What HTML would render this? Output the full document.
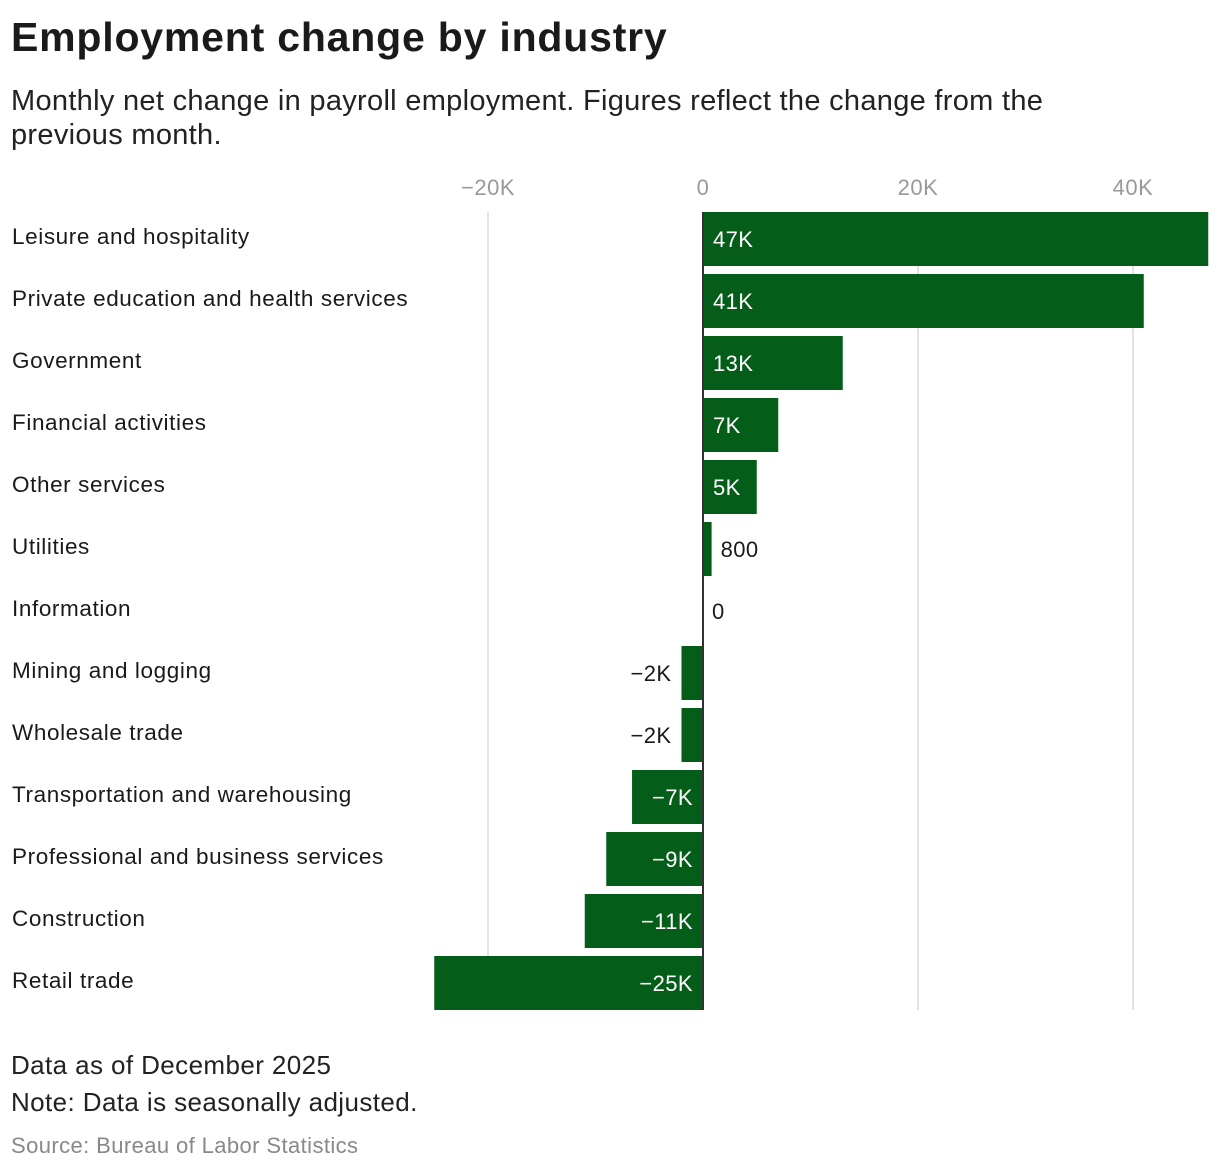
<!DOCTYPE html>
<html><head><meta charset="utf-8"><style>
body{margin:0;background:#fff;font-family:"Liberation Sans",sans-serif;}
#wrap{position:relative;width:1220px;height:1172px;overflow:hidden;}
.t{position:absolute;white-space:nowrap;}
</style></head><body><div id="wrap">
<div class="t" style="left:11px;top:14px;font-size:41px;letter-spacing:0.8px;font-weight:bold;color:#1a1a1a;">Employment change by industry</div>
<div class="t" style="left:11px;top:84px;font-size:29px;letter-spacing:0.3px;line-height:34px;color:#222;white-space:normal;width:1145px;">Monthly net change in payroll employment. Figures reflect the change from the previous month.</div>
<svg id="chart" width="1220" height="1172" style="position:absolute;left:0;top:0"></svg>
<div class="t" style="left:11px;top:1050px;font-size:26px;letter-spacing:0.4px;color:#222;">Data as of December 2025</div>
<div class="t" style="left:11px;top:1087px;font-size:26px;letter-spacing:0.4px;color:#222;">Note: Data is seasonally adjusted.</div>
<div class="t" style="left:11px;top:1133px;font-size:22px;letter-spacing:0.4px;color:#888;">Source: Bureau of Labor Statistics</div>
</div>
<script>
const categories=["Leisure and hospitality","Private education and health services","Government","Financial activities","Other services","Utilities","Information","Mining and logging","Wholesale trade","Transportation and warehousing","Professional and business services","Construction","Retail trade"];
const values=[47,41,13,7,5,0.8,0,-2,-2,-6.6,-9,-11,-25];
const valueLabels=["47K","41K","13K","7K","5K","800","0","\u22122K","\u22122K","\u22127K","\u22129K","\u221211K","\u221225K"];
const ticks=[-20,0,20,40];
const tickLabels=["\u221220K","0","20K","40K"];
const NS="http://www.w3.org/2000/svg";
const svg=document.getElementById("chart");
const x=v=>703+v*10.75;
const yTop=i=>212+i*62;
const bh=54;
function mk(tag,attrs){const e=document.createElementNS(NS,tag);for(const k in attrs)e.setAttribute(k,attrs[k]);svg.appendChild(e);return e;}
ticks.forEach((t,i)=>{
  if(t!==0){const g=mk("line",{x1:x(t),x2:x(t),y1:212,y2:1010,stroke:"#e2e2e2","stroke-width":2});
  
  }
  const tx=mk("text",{x:x(t),y:195,"text-anchor":"middle","font-size":22,"letter-spacing":0.5,fill:"#999","font-family":"Liberation Sans, sans-serif"});
  tx.textContent=tickLabels[i];
  
  
});
categories.forEach((c,i)=>{
  const yt=yTop(i), cy=yt+bh/2;
  const lab=mk("text",{x:12,y:yt+32,"font-size":22.5,"letter-spacing":0.6,fill:"#1a1a1a","font-family":"Liberation Sans, sans-serif"});
  lab.textContent=c;
  
  
  const v=values[i];
  const x0=Math.min(x(0),x(v)), w=Math.abs(x(v)-x(0));
  const r=mk("rect",{x:x0,y:yt,width:w,height:bh,fill:"#045d18"});
  
  
  const wide=w>40;
  let tx,anchor,fill;
  if(v>=0){ if(wide){tx=x(0)+10;anchor="start";fill="#fff";} else {tx=x(v)+9;anchor="start";fill="#1a1a1a";} }
  else { if(wide){tx=x(0)-10;anchor="end";fill="#fff";} else {tx=x(v)-10;anchor="end";fill="#1a1a1a";} }
  const vl=mk("text",{x:tx,y:cy+8,"text-anchor":anchor,"font-size":22,"letter-spacing":0.4,fill:fill,"font-family":"Liberation Sans, sans-serif"});
  vl.textContent=valueLabels[i];
  
  
});
const z=mk("line",{x1:x(0),x2:x(0),y1:212,y2:1010,stroke:"#333","stroke-width":2});


</script></body></html>
